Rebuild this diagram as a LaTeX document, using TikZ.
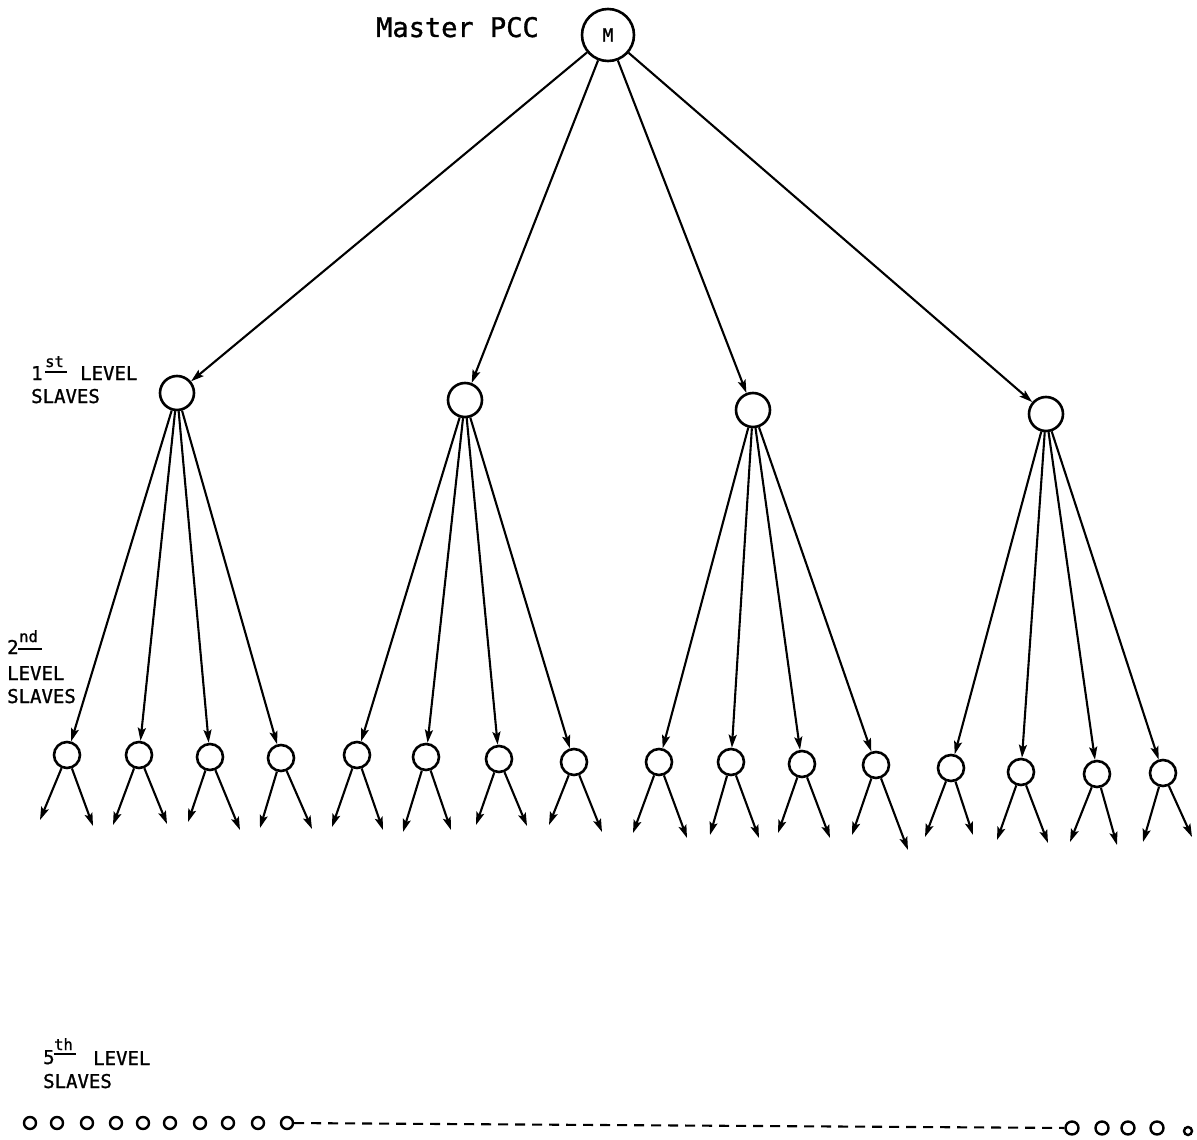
\documentclass[tikz,border=0pt]{standalone}
\usepackage{fontspec}
\usetikzlibrary{arrows.meta}
\newfontfamily\labfont[FakeBold=1.2]{DejaVu Sans Mono}
\tikzset{
  circ/.style={circle, draw, line width=2.6pt, inner sep=0pt},
  mnode/.style={circ, minimum size=52pt, font=\labfont\fontsize{18}{18}\selectfont},
  lone/.style={circ, minimum size=34pt},
  ltwo/.style={circ, minimum size=26pt},
  lfive/.style={circ, line width=2.4pt, minimum size=12pt},
  arr/.style={line width=2.1pt, -{Stealth[length=13pt,width=8pt,inset=2.5pt]}},
  lab/.style={font=\labfont\fontsize{19}{19}\selectfont, inner sep=0pt, anchor=base west},
  ordl/.style={font=\labfont\fontsize{15.5}{15.5}\selectfont, inner sep=0pt, anchor=base west},
  ulin/.style={line width=1.6pt},
  dashline/.style={line width=2.1pt, dash pattern=on 10pt off 7pt},
}
\begin{document}
\begin{tikzpicture}[x=1pt,y=-1pt]
\useasboundingbox (0,0) rectangle (1197,1140);
\fill[white] (0,0) rectangle (1197,1140);

% master
\node[mnode] (M) at (608,35) {M};
\node[font=\labfont\fontsize{27}{27}\selectfont, inner sep=0pt, anchor=base west] (mt) at (376,37) {Master PCC};

% level 1
\node[lone] (a1) at (177,393) {};
\node[lone] (a2) at (465,400) {};
\node[lone] (a3) at (753,410) {};
\node[lone] (a4) at (1046,414) {};
\foreach \i in {1,...,4} \draw[arr] (M) -- (a\i);

% level 2
\foreach \n/\x/\y/\lx/\ly/\rx/\ry in {
 1/67/755/40/820/93/826,
 2/139/755/113/825/167/824,
 3/210/757/188/822/240/830,
 4/281/758/260/828/312/829,
 5/357/755/332/827/383/830,
 6/426/757/403/832/451/830,
 7/499/759/476/825/527/826,
 8/574/762/549/825/602/832,
 9/659/762/633/833/687/838,
 10/731/762/710/835/759/838,
 11/802/764/778/833/830/838,
 12/876/765/852/835/908/850,
 13/951/768/925/837/973/835,
 14/1021/772/997/840/1048/843,
 15/1097/774/1070/842/1117/845,
 16/1163/773/1143/842/1192/837}{
  \node[ltwo] (b\n) at (\x,\y) {};
  \coordinate (bl\n) at (\lx,\ly);
  \coordinate (br\n) at (\rx,\ry);
  \draw[arr] (b\n) -- (bl\n);
  \draw[arr] (b\n) -- (br\n);
}
\foreach \i in {1,...,4} \draw[arr] (a1) -- (b\i);
\foreach \i in {5,...,8} \draw[arr] (a2) -- (b\i);
\foreach \i in {9,...,12} \draw[arr] (a3) -- (b\i);
\foreach \i in {13,...,16} \draw[arr] (a4) -- (b\i);

% 5th level
\foreach \n/\x in {1/30,2/57,3/87,4/116,5/143,6/170,7/200,8/228,9/258,10/287}
  \node[lfive] (c\n) at (\x,1123) {};
\foreach \n/\x in {1/1072,2/1102,3/1128,4/1157}
  \node[lfive, minimum size=13pt] (d\n) at (\x,1128) {};
\node[lfive, minimum size=8pt] (d5) at (1188,1131) {};
\draw[dashline] (c10) -- (d1);

% labels
\node[lab] (t1a) at (31,380) {1};
\node[ordl] (o1) at (45,367) {st};
\draw[ulin] ([yshift=-5pt]o1.base west) -- ([yshift=-5pt,xshift=3pt]o1.base east);
\node[lab] (t1b) at (80,380) {LEVEL};
\node[lab] (t1c) at (31,403) {SLAVES};

\node[lab] (t2a) at (7,654) {2};
\node[ordl] (o2) at (19,642) {nd};
\draw[ulin] ([yshift=-7pt,xshift=-1pt]o2.base west) -- ([yshift=-7pt,xshift=4pt]o2.base east);
\node[lab] (t2b) at (7,680) {LEVEL};
\node[lab] (t2c) at (7,703) {SLAVES};

\node[lab] (t5a) at (43,1064) {5};
\node[ordl] (o5) at (54,1050) {th};
\draw[ulin] ([yshift=-4pt]o5.base west) -- ([yshift=-4pt,xshift=3pt]o5.base east);
\node[lab] (t5b) at (93,1065) {LEVEL};
\node[lab] (t5c) at (43,1088) {SLAVES};
\end{tikzpicture}
\end{document}
